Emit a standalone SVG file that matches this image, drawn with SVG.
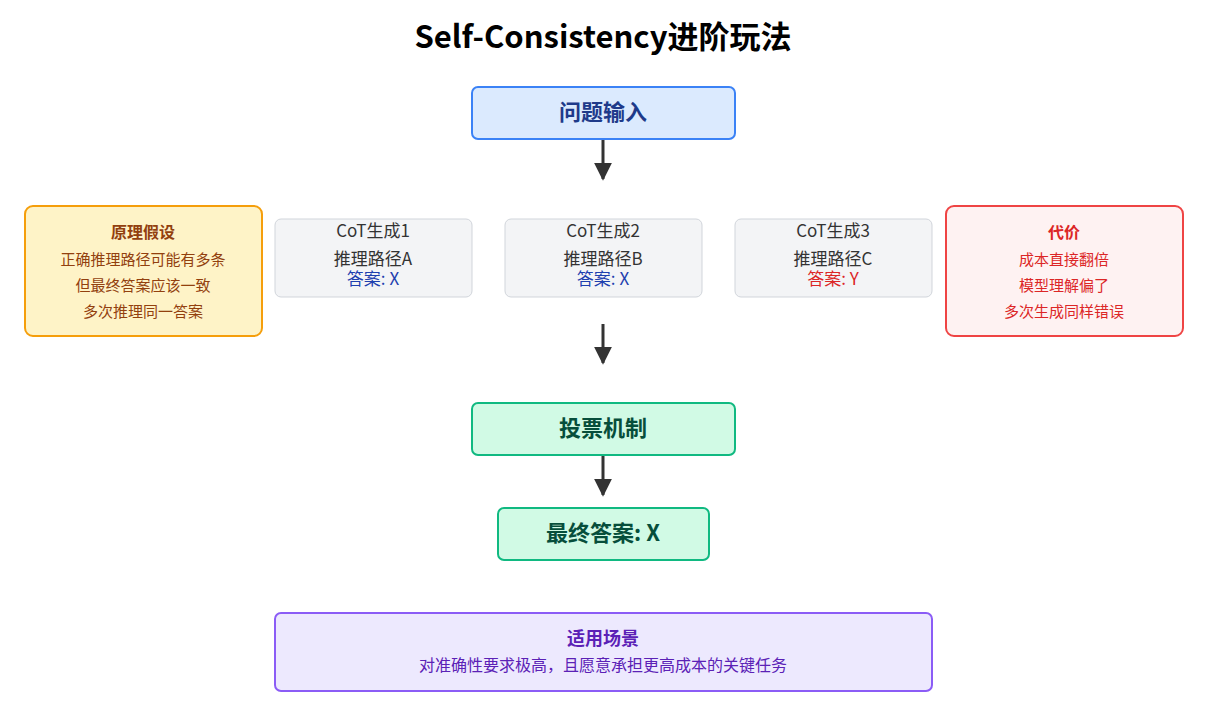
<svg xmlns="http://www.w3.org/2000/svg" width="1206" height="711" viewBox="0 0 1206 711">
<style>
text{font-family:"Noto Sans CJK SC","Noto Sans",sans-serif;text-anchor:middle}
.b{font-weight:bold}
.cot{fill:#f3f4f6;stroke:#d1d5db;stroke-width:1}
.g{fill:#333}
</style>
<defs><marker id="ah" viewBox="0 0 10 10" refX="9" refY="5" markerWidth="6" markerHeight="7" orient="auto" markerUnits="strokeWidth"><path d="M0,0L10,5L0,10z" fill="#333"/></marker></defs>
<rect width="1206" height="711" fill="#fff"/>
<text x="603" y="48" class="b" font-size="31" fill="#000">Self-Consistency进阶玩法</text>
<g id="input"><rect x="472" y="87" width="263" height="52" rx="6" fill="#dbeafe" stroke="#3b82f6" stroke-width="2"/><text x="603" y="120" class="b" font-size="22" fill="#1e3a8a">问题输入</text></g>
<g id="assume"><rect x="25" y="206" width="237" height="130" rx="8" fill="#fef3c7" stroke="#f59e0b" stroke-width="2"/>
<text x="143" y="238" class="b" font-size="16" fill="#92400e">原理假设</text>
<text x="143" y="265" font-size="15" fill="#92400e">正确推理路径可能有多条</text>
<text x="143" y="291" font-size="15" fill="#92400e">但最终答案应该一致</text>
<text x="143" y="317" font-size="15" fill="#92400e">多次推理同一答案</text></g>
<g id="cot1"><rect class="cot" x="275" y="219" width="197" height="78" rx="6"/><text x="373" y="237" font-size="17" class="g">CoT生成1</text><text x="373" y="265" font-size="17" class="g">推理路径A</text><text x="373" y="285" font-size="17" fill="#1e40af">答案: X</text></g>
<g id="cot2"><rect class="cot" x="505" y="219" width="197" height="78" rx="6"/><text x="603" y="237" font-size="17" class="g">CoT生成2</text><text x="603" y="265" font-size="17" class="g">推理路径B</text><text x="603" y="285" font-size="17" fill="#1e40af">答案: X</text></g>
<g id="cot3"><rect class="cot" x="735" y="219" width="197" height="78" rx="6"/><text x="833" y="237" font-size="17" class="g">CoT生成3</text><text x="833" y="265" font-size="17" class="g">推理路径C</text><text x="833" y="285" font-size="17" fill="#dc2626">答案: Y</text></g>
<g id="cost"><rect x="946" y="206" width="237" height="130" rx="8" fill="#fef2f2" stroke="#ef4444" stroke-width="2"/>
<text x="1064" y="238" class="b" font-size="16" fill="#dc2626">代价</text>
<text x="1064" y="265" font-size="15" fill="#dc2626">成本直接翻倍</text>
<text x="1064" y="291" font-size="15" fill="#dc2626">模型理解偏了</text>
<text x="1064" y="317" font-size="15" fill="#dc2626">多次生成同样错误</text></g>
<g id="vote"><rect x="472" y="403" width="263" height="52" rx="6" fill="#d1fae5" stroke="#10b981" stroke-width="2"/><text x="603" y="436" class="b" font-size="22" fill="#064e3b">投票机制</text></g>
<g id="final"><rect x="498" y="508" width="211" height="52" rx="6" fill="#d1fae5" stroke="#10b981" stroke-width="2"/><text x="603" y="541" class="b" font-size="22" fill="#064e3b">最终答案: X</text></g>
<g id="scene"><rect x="275" y="613" width="657" height="78" rx="6" fill="#ede9fe" stroke="#8b5cf6" stroke-width="2"/><text x="603" y="645" class="b" font-size="18" fill="#5b21b6">适用场景</text><text x="603" y="671" font-size="16" fill="#5b21b6">对准确性要求极高，且愿意承担更高成本的关键任务</text></g>
<g id="connectors" stroke="#333" stroke-width="3" fill="none">
<line x1="603" y1="140" x2="603" y2="179" marker-end="url(#ah)"/>
<line x1="603" y1="324" x2="603" y2="363" marker-end="url(#ah)"/>
<line x1="603" y1="456" x2="603" y2="495" marker-end="url(#ah)"/>
</g>
</svg>
